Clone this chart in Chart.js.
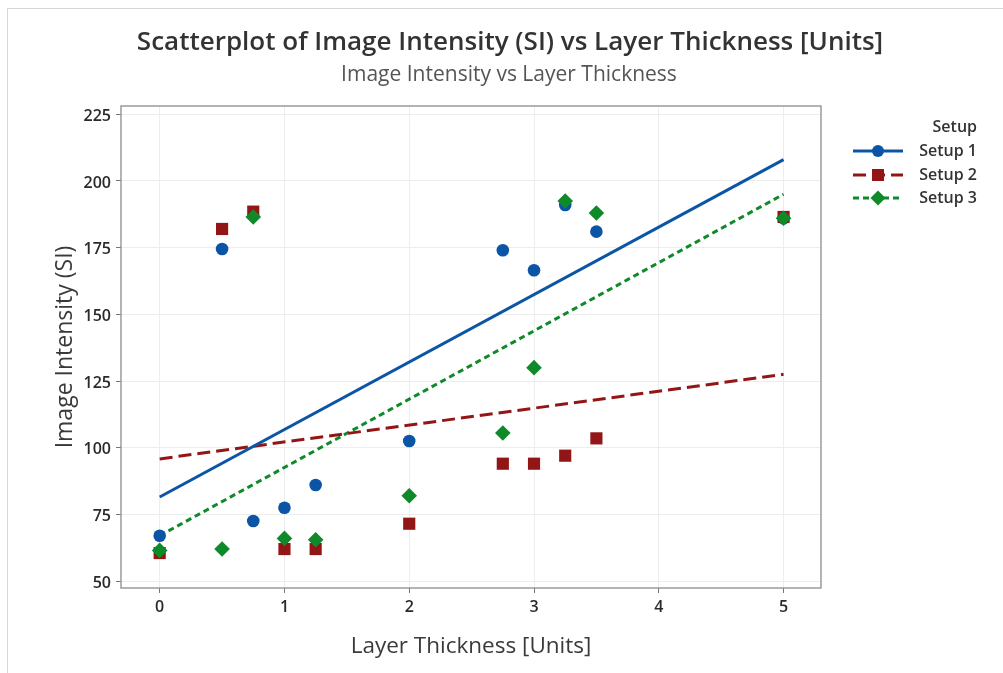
<!DOCTYPE html>
<html>
<head>
<meta charset="utf-8">
<script src="https://cdn.jsdelivr.net/npm/chart.js@4/dist/chart.umd.min.js"></script>
<style>
  html, body { margin: 0; padding: 0; background: #fff; }
  #frame { position: absolute; left: 7px; top: 8px; width: 1000px; height: 670px; border-left: 1px solid #d6d6d6; border-top: 1px solid #d6d6d6; }
  #wrap { position: absolute; left: 0; top: 0; width: 1003px; height: 673px; }
</style>
</head>
<body>
<div id="frame"></div>
<div id="wrap"><canvas id="c" width="1003" height="673"></canvas></div>
<script>
// ---- data ----
const thickness = [0, 0.5, 0.75, 1, 1.25, 2, 2.75, 3, 3.25, 3.5, 5];
const setup1 = [67, 174.5, 72.5, 77.5, 86, 102.5, 174, 166.5, 191, 181, 186];
const setup2 = [60.5, 182, 188.5, 62, 62, 71.5, 94, 94, 97, 103.5, 186.5];
const setup3 = [61.5, 62, 186.5, 66, 65.5, 82, 105.5, 130, 192.5, 188, 186];
const fitX = [0, 5];
const fit1 = [81.5, 208];
const fit2 = [95.8, 127.5];
const fit3 = [67, 195];
const seriesNames = ['Setup 1', 'Setup 2', 'Setup 3'];
const xTicks = [0, 1, 2, 3, 4, 5];
const yTicks = [50, 75, 100, 125, 150, 175, 200, 225];
const titleText = 'Scatterplot of Image Intensity (SI) vs Layer Thickness [Units]';
const subtitleText = 'Image Intensity vs Layer Thickness';
const xTitle = 'Layer Thickness [Units]';
const yTitle = 'Image Intensity (SI)';
const legendTitle = 'Setup';

// ---- styles ----
const colors = ['#0b55a6', '#931616', '#0f8a2b'];
const dashes = [[], [13, 6], [6, 4]];
const FONT = "'Open Sans', 'Noto Sans', sans-serif";

const pts = (xs, ys) => xs.map((x, i) => ({ x: x, y: ys[i] }));

const pointDatasets = [setup1, setup2, setup3].map((ys, i) => ({
  type: 'scatter',
  label: seriesNames[i],
  data: pts(thickness, ys),
  backgroundColor: colors[i],
  borderColor: colors[i],
  borderWidth: 0,
  pointStyle: ['circle', 'rect', 'rectRot'][i],
  pointRadius: [6.3, 8.6, 7.8][i],
  order: 2 - i
}));
const fitDatasets = [fit1, fit2, fit3].map((ys, i) => ({
  type: 'line',
  label: seriesNames[i] + ' fit',
  data: pts(fitX, ys),
  borderColor: colors[i],
  borderWidth: 3,
  borderDash: dashes[i],
  pointRadius: 0,
  fill: false,
  tension: 0,
  order: 10 + i
}));

const decor = {
  id: 'decor',
  beforeDatasetsDraw(chart) {
    const { ctx, chartArea: a } = chart;
    ctx.save();
    ctx.strokeStyle = '#8c8c8c';
    ctx.lineWidth = 1.3;
    ctx.strokeRect(a.left, a.top, a.right - a.left, a.bottom - a.top);
    ctx.restore();
  },
  afterDraw(chart) {
    const ctx = chart.ctx;
    ctx.save();
    ctx.textAlign = 'center';
    ctx.textBaseline = 'middle';
    ctx.fillStyle = '#333';
    ctx.font = "600 26px " + FONT;
    ctx.fillText(titleText, 510, 43);
    ctx.fillStyle = '#555';
    ctx.font = "21px " + FONT;
    ctx.fillText(subtitleText, 509, 75);

    // legend
    ctx.textAlign = 'right';
    ctx.fillStyle = '#333';
    ctx.font = "600 16px " + FONT;
    ctx.fillText(legendTitle, 977, 127);
    const rows = [151, 175, 198];
    rows.forEach((y, i) => {
      ctx.fillStyle = '#333';
      ctx.fillText(seriesNames[i], 977, y);
      ctx.strokeStyle = colors[i];
      ctx.lineWidth = 3;
      ctx.setLineDash(dashes[i]);
      ctx.beginPath();
      ctx.moveTo(853, y);
      ctx.lineTo(903, y);
      ctx.stroke();
      ctx.setLineDash([]);
      ctx.fillStyle = colors[i];
      ctx.beginPath();
      if (i === 0) {
        ctx.arc(878, y, 6, 0, Math.PI * 2);
      } else if (i === 1) {
        ctx.rect(872, y - 6, 12, 12);
      } else {
        ctx.moveTo(878, y - 7.5); ctx.lineTo(885.5, y); ctx.lineTo(878, y + 7.5); ctx.lineTo(870.5, y);
        ctx.closePath();
      }
      ctx.fill();
    });
    ctx.restore();
  }
};

new Chart(document.getElementById('c'), {
  data: { datasets: [...pointDatasets, ...fitDatasets] },
  options: {
    responsive: false,
    animation: false,
    layout: { padding: { left: 30, right: 182, top: 106, bottom: 10 } },
    plugins: { legend: { display: false }, title: { display: false }, tooltip: { enabled: false } },
    scales: {
      x: {
        type: 'linear',
        min: -0.31, max: 5.3,
        afterBuildTicks: s => { s.ticks = xTicks.map(v => ({ value: v })); },
        afterFit: s => { s.height = 75; },
        grid: { color: '#ededed', lineWidth: 1, tickLength: 5, tickColor: '#777' },
        border: { display: false },
        ticks: { color: '#2a2a2a', font: { family: FONT, size: 16, weight: '600' }, padding: 5, maxRotation: 0 },
        title: { display: true, text: xTitle, color: '#3a3a3a', font: { family: FONT, size: 22.5 }, padding: { top: 0, bottom: 3 } }
      },
      y: {
        type: 'linear',
        min: 47.4, max: 228.1,
        afterBuildTicks: s => { s.ticks = yTicks.map(v => ({ value: v })); },
        afterFit: s => { s.width = 91; },
        grid: { color: '#ededed', lineWidth: 1, tickLength: 5, tickColor: '#777' },
        border: { display: false },
        ticks: { color: '#2a2a2a', font: { family: FONT, size: 16, weight: '600' }, padding: 5, labelOffset: 2 },
        title: { display: true, text: yTitle, color: '#3a3a3a', font: { family: FONT, size: 23 }, padding: { top: 22, bottom: 0 } }
      }
    }
  },
  plugins: [decor]
});
</script>
</body>
</html>
